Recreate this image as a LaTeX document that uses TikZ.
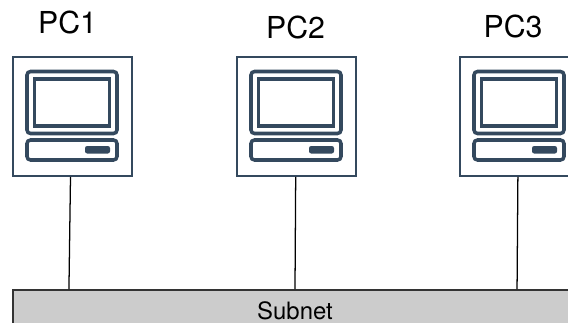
\documentclass[tikz,border=0pt]{standalone}
\usepackage{fontspec}
\setmainfont{TeX Gyre Heros}
\usetikzlibrary{positioning,calc}
\definecolor{pcline}{RGB}{52,73,94}
\definecolor{subnetgray}{RGB}{204,204,204}
\begin{document}
\begin{tikzpicture}[x=0.025cm,y=-0.025cm]
    \tikzset{
        pcbox/.style = {draw=pcline, line width=1.2pt, minimum width=2.975cm, minimum height=2.975cm, inner sep=0pt},
        pclabel/.style = {font=\fontsize{21.5}{24}\selectfont, inner sep=0pt, anchor=base},
        pcpart/.style = {draw=pcline, line width=2.5pt, rounded corners=2.5pt},
        subnetbox/.style = {draw=black!80, line width=1.1pt, fill=subnetgray, minimum width=14.1cm, minimum height=1.05cm, inner sep=0pt},
        subnetlabel/.style = {font=\fontsize{17}{20}\selectfont, inner sep=0pt, anchor=base},
        wire/.style = {draw=black, line width=0.9pt}
    }
    \useasboundingbox (0,0) rectangle (568,323);
    \clip (0,0) rectangle (568,323);

    % Subnet bar
    \node[subnetbox] (subnet) at (295,311) {};
    \node[subnetlabel] (subnetname) at (295,319) {Subnet};

    % Computers
    \foreach \name/\num/\px/\lx/\ly in {pcA/1/72.5/67.5/33, pcB/2/296.5/295.5/38, pcC/3/519.5/513/37} {
        \node[pcbox] (\name) at (\px,116.5) {};
        \node[pclabel] (\name label) at (\lx,\ly) {PC\num};
        \begin{scope}[shift={(\px,116.5)}]
            \draw[pcpart] (-45.5,-45) rectangle (44.5,17);
            \draw[draw=pcline, line width=2.5pt] (-38,-37.5) rectangle (37,9.5);
            \draw[pcpart] (-45.5,23.5) rectangle (44.5,43.5);
            \fill[pcline, rounded corners=1.5pt] (12.5,29.5) rectangle (37.5,37);
        \end{scope}
    }

    % Links
    \draw[wire] ([xshift=-0.05cm]pcA.south) -- ([xshift=-5.65cm]subnet.north);
    \draw[wire] ([xshift=-0.02cm]pcB.south) -- (subnet.north);
    \draw[wire] ([xshift=-0.04cm]pcC.south) -- ([xshift=5.55cm]subnet.north);
\end{tikzpicture}
\end{document}
